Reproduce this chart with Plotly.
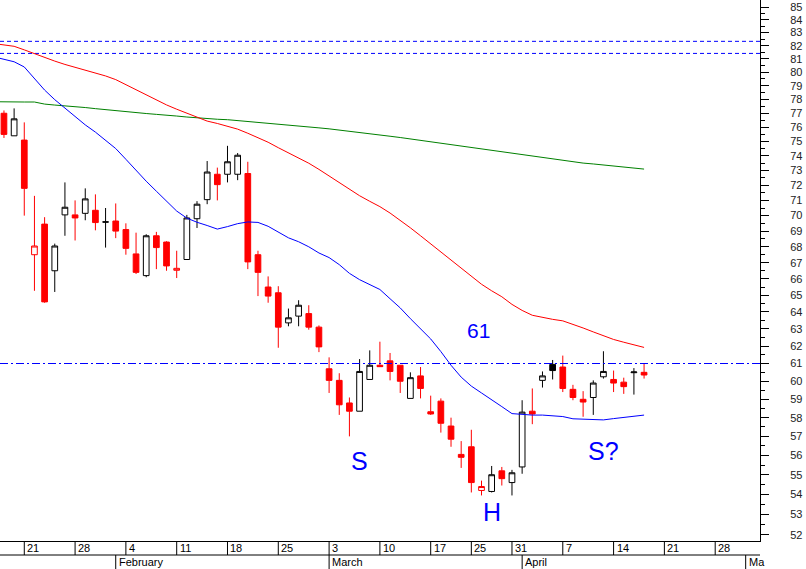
import math
import pandas as pd
import plotly.graph_objects as go

# ---------------- calendar (trading days, Easter holidays removed) ----------------
holidays = ["2008-03-21", "2008-03-24"]
calendar = [d for d in pd.bdate_range("2008-01-16", "2008-05-02")
            if d.strftime("%Y-%m-%d") not in holidays]

# ---------------- data ----------------
# candles: 2008-01-17 .. 2008-04-17
opens = [77.0, 75.4, 75.1, 67.5, 69.45, 66.5, 70.05, 70.05, 70.15, 70.35,
         69.6, 69.65, 69.1, 67.55, 66.2, 68.7, 68.3, 66.53, 67.2, 69.8,
         71.05, 72.75, 72.75, 72.75, 72.8, 67.5, 65.5, 65.15, 63.35, 63.75,
         63.9, 63.1, 60.7, 60.05, 58.8, 58.35, 60.1, 60.9, 61.15, 60.9,
         59.05, 60.3, 58.32, 58.9, 57.55, 56.05, 56.45, 54.2, 54.15, 55.2,
         54.6, 55.4, 58.35, 60.05, 60.95, 60.8, 59.55, 59.0, 59.1, 60.25,
         60.1, 59.95, 60.48, 60.5]
highs = [77.2, 77.35, 76.35, 71.3, 69.9, 68.2, 72.2, 71.0, 71.8, 71.4,
         70.5, 70.8, 69.5, 68.9, 68.8, 68.95, 68.35, 67.75, 70.05, 70.95,
         73.65, 73.2, 74.7, 74.2, 73.6, 67.75, 66.15, 65.55, 64.2, 64.7,
         64.4, 63.2, 61.35, 60.45, 59.1, 61.25, 61.75, 62.25, 61.6, 60.9,
         60.5, 60.8, 59.2, 59.05, 58.0, 56.75, 57.35, 54.7, 55.45, 55.4,
         55.25, 58.95, 59.6, 60.55, 61.2, 61.45, 59.8, 59.45, 60.05, 61.7,
         60.6, 60.2, 60.74, 61.0]
lows = [75.25, 75.4, 70.0, 65.27, 64.55, 65.2, 68.7, 68.4, 69.7, 69.05,
        67.95, 68.55, 67.5, 66.3, 66.1, 66.6, 66.5, 66.05, 67.2, 69.2,
        70.75, 71.0, 72.2, 72.35, 66.6, 64.95, 64.55, 61.9, 63.15, 63.15,
        62.95, 61.65, 59.35, 58.15, 57.0, 58.35, 60.1, 60.8, 60.05, 59.35,
        59.05, 59.05, 58.15, 57.2, 56.45, 55.35, 54.1, 53.95, 54.1, 54.45,
        53.95, 55.05, 57.65, 59.65, 60.1, 59.4, 58.95, 58.05, 58.15, 60.15,
        59.4, 59.3, 59.26, 60.15]
closes = [75.5, 76.6, 71.8, 68.05, 64.6, 68.05, 70.55, 69.85, 71.1, 69.55,
          69.58, 69.0, 67.9, 66.4, 68.7, 67.95, 66.8, 66.65, 69.85, 70.75,
          72.9, 72.05, 73.6, 74.05, 67.05, 66.4, 64.95, 63.1, 63.65, 64.4,
          63.1, 61.95, 60.05, 58.7, 58.35, 60.55, 60.9, 60.82, 60.55, 60.0,
          60.2, 59.6, 58.2, 57.7, 56.85, 55.9, 54.6, 54.4, 55.0, 54.8,
          55.1, 58.3, 58.2, 60.3, 60.6, 59.6, 59.1, 58.85, 59.9, 60.55,
          59.9, 59.7, 60.52, 60.35]

# moving averages: 2008-01-16 .. 2008-04-17
ma_red = [82.16, 82.05, 81.95, 81.68, 81.38, 81.10, 80.83, 80.58, 80.37, 80.16,
          79.93, 79.72, 79.45, 79.08, 78.69, 78.31, 77.94, 77.60, 77.29, 77.00,
          76.71, 76.44, 76.27, 76.09, 75.87, 75.58, 75.27, 74.95, 74.57, 74.21,
          73.88, 73.50, 73.08, 72.63, 72.22, 71.72, 71.31, 70.94, 70.59, 70.17,
          69.71, 69.21, 68.70, 68.18, 67.68, 67.18, 66.67, 66.17, 65.67, 65.27,
          64.91, 64.45, 64.09, 63.80, 63.67, 63.56, 63.47, 63.27, 63.05, 62.82,
          62.59, 62.38, 62.22, 62.06, 61.92]
ma_green = [77.83, 77.81, 77.81, 77.81, 77.81, 77.66, 77.59, 77.54, 77.46, 77.41,
            77.33, 77.25, 77.18, 77.11, 77.05, 76.98, 76.92, 76.88, 76.80, 76.73,
            76.66, 76.61, 76.57, 76.54, 76.48, 76.41, 76.34, 76.28, 76.22, 76.15,
            76.10, 76.03, 75.96, 75.89, 75.81, 75.72, 75.64, 75.56, 75.46, 75.37,
            75.28, 75.18, 75.09, 74.99, 74.89, 74.79, 74.70, 74.61, 74.51, 74.41,
            74.30, 74.20, 74.09, 73.98, 73.88, 73.78, 73.69, 73.60, 73.51, 73.45,
            73.38, 73.30, 73.24, 73.17, 73.10]
ma_blue = [81.15, 80.97, 80.78, 80.39, 79.56, 78.68, 77.98, 77.35, 76.73, 76.17,
           75.66, 75.11, 74.51, 73.77, 73.01, 72.28, 71.61, 70.97, 70.30, 69.84,
           69.57, 69.36, 69.13, 69.29, 69.48, 69.59, 69.56, 69.31, 68.93, 68.57,
           68.32, 68.00, 67.61, 67.32, 66.88, 66.34, 65.95, 65.67, 65.35, 64.79,
           64.24, 63.60, 63.00, 62.41, 61.68, 60.90, 60.23, 59.73, 59.35, 58.99,
           58.60, 58.22, 58.16, 58.14, 58.14, 58.12, 58.06, 57.94, 57.91, 57.89,
           57.88, 57.95, 58.00, 58.06, 58.14]

hlines_dashdot = [61.0]
hlines_dash = [82.33, 81.41]

y_tick_values = list(range(52, 86))
month_labels = ["February", "March", "April", "Ma"]

notes = [("61", "2008-03-26", 62.93, 21), ("S", "2008-03-06", 55.71, 25),
         ("H", "2008-03-27", 53.13, 25), ("S?", "2008-04-11", 56.23, 25)]

# ---------------- positions ----------------
ma_x = list(range(0, len(ma_red)))
candle_x = list(range(1, 1 + len(opens)))
X0, X1 = 0.61, 75.41
Y0, Y1 = 51.71, 85.56

def xp(p):
    return (p - X0) / (X1 - X0)

FONT = "Liberation Sans, Arial, sans-serif"
RED = "#ff0000"

# colour rule: black when close >= previous close, red otherwise
is_black = []
for i, c in enumerate(closes):
    ref = closes[i - 1] if i > 0 else opens[i]
    is_black.append(c >= ref)

fig = go.Figure()

for h in hlines_dash:
    fig.add_trace(go.Scatter(x=[X0, X1], y=[h, h], mode="lines",
                             line=dict(color="#0000ff", width=1, dash="4px,3px"),
                             hoverinfo="skip", showlegend=False))
for h in hlines_dashdot:
    fig.add_trace(go.Scatter(x=[X0, X1], y=[h, h], mode="lines",
                             line=dict(color="#0000ff", width=1, dash="8px,3px,2px,3px"),
                             hoverinfo="skip", showlegend=False))

for ma, col in [(ma_green, "#008000"), (ma_red, RED), (ma_blue, "#0000ff")]:
    fig.add_trace(go.Scatter(x=ma_x, y=ma, mode="lines",
                             line=dict(color=col, width=1),
                             hoverinfo="skip", showlegend=False))

for group_black, col in [(True, "#000000"), (False, RED)]:
    idx = [i for i in range(len(opens)) if is_black[i] == group_black]
    fig.add_trace(go.Candlestick(
        x=[candle_x[i] for i in idx],
        open=[opens[i] for i in idx], high=[highs[i] for i in idx],
        low=[lows[i] for i in idx], close=[closes[i] for i in idx],
        increasing=dict(line=dict(color=col, width=1), fillcolor="white"),
        decreasing=dict(line=dict(color=col, width=1), fillcolor=col),
        whiskerwidth=0, showlegend=False, hoverinfo="skip"))

shapes = []
annotations = []
ROW1 = -14 / 541
ROW2 = -28 / 541

# lower strip line
shapes.append(dict(type="line", xref="paper", yref="paper", x0=0, x1=1, y0=ROW1, y1=ROW1,
                   line=dict(color="black", width=1)))

# weekly ticks (first trading day of each week)
prev_week = None
for p, d in enumerate(calendar):
    wk = d.isocalendar()[1]
    if wk != prev_week:
        prev_week = wk
        if X0 < p < X1:
            shapes.append(dict(type="line", xref="paper", yref="paper",
                               x0=xp(p), x1=xp(p), y0=0, y1=ROW1,
                               line=dict(color="black", width=1)))
            annotations.append(dict(x=xp(p), y=-7 / 541, xref="paper", yref="paper",
                                    text=str(d.day), showarrow=False, xanchor="left",
                                    yanchor="middle", xshift=1,
                                    font=dict(family=FONT, size=11, color="black")))

# month separators (first trading day of each month)
prev_month = calendar[0].month
mi = 0
for p, d in enumerate(calendar):
    if d.month != prev_month:
        prev_month = d.month
        if X0 < p < X1:
            shapes.append(dict(type="line", xref="paper", yref="paper",
                               x0=xp(p), x1=xp(p), y0=ROW1, y1=ROW2,
                               line=dict(color="black", width=1)))
            annotations.append(dict(x=xp(p), y=-21 / 541, xref="paper", yref="paper",
                                    text=month_labels[mi], showarrow=False, xanchor="left",
                                    yanchor="middle", xshift=1,
                                    font=dict(family=FONT, size=11, color="black")))
            mi += 1

pos_of = {d.strftime("%Y-%m-%d"): p for p, d in enumerate(calendar)}
for txt, day, val, size in notes:
    annotations.append(dict(x=pos_of[day] - 0.25 if txt == "61" else pos_of[day],
                            y=math.log10(val), xref="x", yref="y", text=txt,
                            showarrow=False, xanchor="center", yanchor="middle",
                            font=dict(family=FONT, size=size, color="#0000ff")))

fig.update_layout(
    width=806, height=569,
    margin=dict(l=0, r=46, t=0, b=28),
    paper_bgcolor="white", plot_bgcolor="white",
    boxgap=0.2,
    shapes=shapes, annotations=annotations,
    showlegend=False,
    xaxis=dict(range=[X0, X1], showticklabels=False, ticks="", showgrid=False,
               zeroline=False, showline=True, linecolor="black", linewidth=1,
               rangeslider=dict(visible=False), fixedrange=True),
    yaxis=dict(type="log", side="right", range=[math.log10(Y0), math.log10(Y1)],
               tickvals=y_tick_values, ticktext=[str(v) for v in y_tick_values],
               ticks="outside", ticklen=8, tickcolor="black", tickwidth=1,
               showline=True, linecolor="black", linewidth=1,
               showgrid=False, zeroline=False, ticklabelstandoff=19,
               tickfont=dict(family=FONT, size=11, color="#222222"),
               minor=dict(tickvals=[v + 0.5 for v in y_tick_values[:-1]],
                          ticks="outside", ticklen=4, tickcolor="black", showgrid=False)),
)

fig.write_html("out.html",
               config={"displayModeBar": False},
               post_script="document.body.style.margin='0';"
                           "document.documentElement.style.overflow='hidden';")
